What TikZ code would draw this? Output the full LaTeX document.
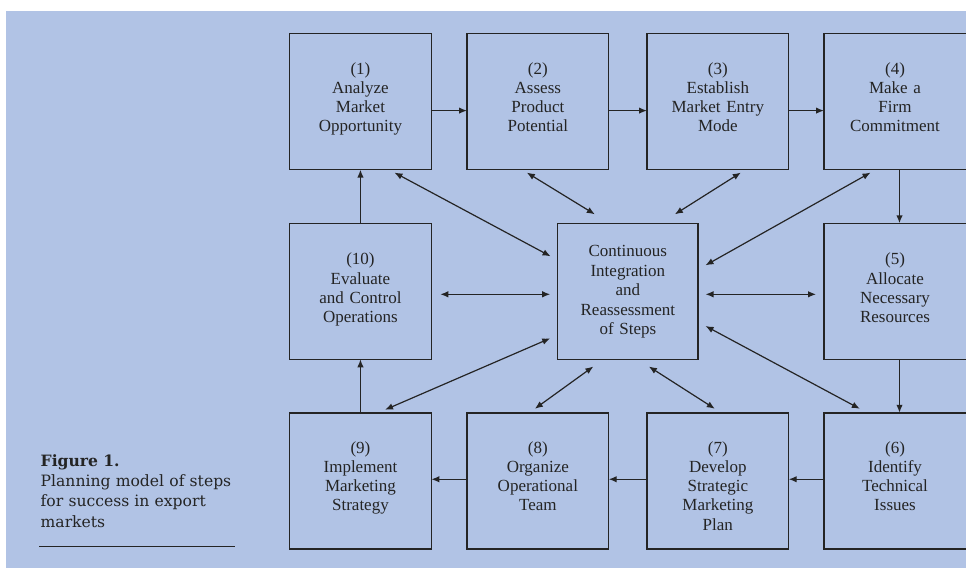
\documentclass[tikz,border=0pt]{standalone}
\usepackage{fontspec}
\setmainfont{Liberation Serif}
\newfontfamily\capfont{DejaVu Serif}
\usetikzlibrary{arrows.meta,calc}
\definecolor{panel}{HTML}{B1C3E5}
\definecolor{ink}{HTML}{242424}

\begin{document}
\begin{tikzpicture}[x=1pt,y=-1pt,
  stepbox/.style={draw=ink, line width=1.5pt, minimum width=141.7pt,
    minimum height=136pt, inner sep=0pt, outer sep=0pt},
  steptext/.style={text=ink, text width=138pt, align=center, inner sep=0pt,
    font=\fontsize{17}{19.2}\selectfont, anchor=base},
  flow/.style={draw=ink, line width=1.4pt, -{Latex[length=8pt,width=6.5pt]}},
  link/.style={draw=ink, line width=1.2pt,
    {Latex[length=8pt,width=6.5pt]}-{Latex[length=8pt,width=6.5pt]}},
  capt/.style={text=ink, text width=210pt, align=left, inner sep=0pt,
    font=\capfont\fontsize{15.6}{20.4}\selectfont, anchor=base west},
]
% page and panel
\useasboundingbox (0,0) rectangle (966,568);
\fill[white] (0,0) rectangle (966,568);
\fill[panel] (6,11) rectangle (966,568);

% step boxes
\node[stepbox] (b1) at (360.45,101.6) {};
\node[stepbox] (b2) at (537.85,101.6) {};
\node[stepbox] (b3) at (717.85,101.6) {};
\node[stepbox, minimum width=143pt] (b4) at (895.5,101.6) {};
\node[stepbox] (b10) at (360.45,291.3) {};
\node[stepbox, minimum width=140.5pt] (C) at (627.85,291.3) {};
\node[stepbox, minimum width=143pt] (b5) at (895.5,291.3) {};
\node[stepbox] (b9) at (360.45,480.75) {};
\node[stepbox] (b8) at (537.85,480.75) {};
\node[stepbox] (b7) at (717.85,480.75) {};
\node[stepbox, minimum width=143pt] (b6) at (895.5,480.75) {};

% box labels
\node[steptext] (t1) at ($(b1.north)+(0,40.6)$) {(1)\\Analyze\\Market\\Opportunity};
\node[steptext] (t2) at ($(b2.north)+(0,40.6)$) {(2)\\Assess\\Product\\Potential};
\node[steptext] (t3) at ($(b3.north)+(0,40.6)$) {(3)\\Establish\\Market Entry\\Mode};
\node[steptext] (t4) at ($(b4.north)+(-0.5,40.6)$) {(4)\\Make a\\Firm\\Commitment};
\node[steptext] (t10) at ($(b10.north)+(0,41.5)$) {(10)\\Evaluate\\and Control\\Operations};
\node[steptext, font=\fontsize{17}{19.5}\selectfont] (tc) at ($(C.north)+(0,33.5)$)
  {Continuous\\Integration\\and\\Reassessment\\of Steps};
\node[steptext] (t5) at ($(b5.north)+(-0.5,41.5)$) {(5)\\Allocate\\Necessary\\Resources};
\node[steptext] (t9) at ($(b9.north)+(0,40.6)$) {(9)\\Implement\\Marketing\\Strategy};
\node[steptext] (t8) at ($(b8.north)+(0,40.6)$) {(8)\\Organize\\Operational\\Team};
\node[steptext] (t7) at ($(b7.north)+(0,40.6)$) {(7)\\Develop\\Strategic\\Marketing\\Plan};
\node[steptext] (t6) at ($(b6.north)+(-0.5,40.6)$) {(6)\\Identify\\Technical\\Issues};

% sequence of steps
\draw[flow] ($(b1.east)+(0,9)$) -- ($(b2.west)+(0,9)$);
\draw[flow] ($(b2.east)+(0,9)$) -- ($(b3.west)+(0,9)$);
\draw[flow] ($(b3.east)+(0,9)$) -- ($(b4.west)+(0,9)$);
\draw[flow] ($(b4.south)+(4,0)$) -- ($(b5.north)+(4,0)$);
\draw[flow] ($(b5.south)+(4,0)$) -- ($(b6.north)+(4,0)$);
\draw[flow] ($(b6.west)+(0,-1.5)$) -- ($(b7.east)+(0,-1.5)$);
\draw[flow] ($(b7.west)+(0,-1.5)$) -- ($(b8.east)+(0,-1.5)$);
\draw[flow] ($(b8.west)+(0,-1.5)$) -- ($(b9.east)+(0,-1.5)$);
\draw[flow] (b9.north) -- (b10.south);
\draw[flow] (b10.north) -- (b1.south);

% links with the central box
\draw[link] ($(b1.south)+(34,3)$) -- ($(C.north west)+(-7,33)$);
\draw[link] ($(b2.south)+(-11,3)$) -- ($(C.north)+(-33,-9)$);
\draw[link] ($(b3.south)+(23,3)$) -- ($(C.north)+(47,-9)$);
\draw[link] ($(b4.south)+(-25,3)$) -- ($(C.north east)+(7.4,42)$);
\draw[link] ($(b10.east)+(9,3)$) -- ($(C.west)+(-7.4,3)$);
\draw[link] ($(C.east)+(7.4,3)$) -- ($(b5.west)+(-8,3)$);
\draw[link] ($(C.south west)+(-7.4,-21)$) -- ($(b9.north)+(24.6,-3)$);
\draw[link] ($(C.south)+(-34.5,7.2)$) -- ($(b8.north)+(-3,-4)$);
\draw[link] ($(C.south)+(21,7.2)$) -- ($(b7.north)+(-3,-4)$);
\draw[link] ($(C.east)+(7.4,34.7)$) -- ($(b6.north)+(-35.7,-4)$);

% caption
\node[capt] (cap) at (40.5,466) {\textbf{Figure 1.}\\Planning model of steps\\for success in export\\markets};
\coordinate (r0) at (39.3,546);
\coordinate (r1) at (235,546);
\draw[ink, line width=1pt] (r0) -- (r1);
\end{tikzpicture}
\end{document}
